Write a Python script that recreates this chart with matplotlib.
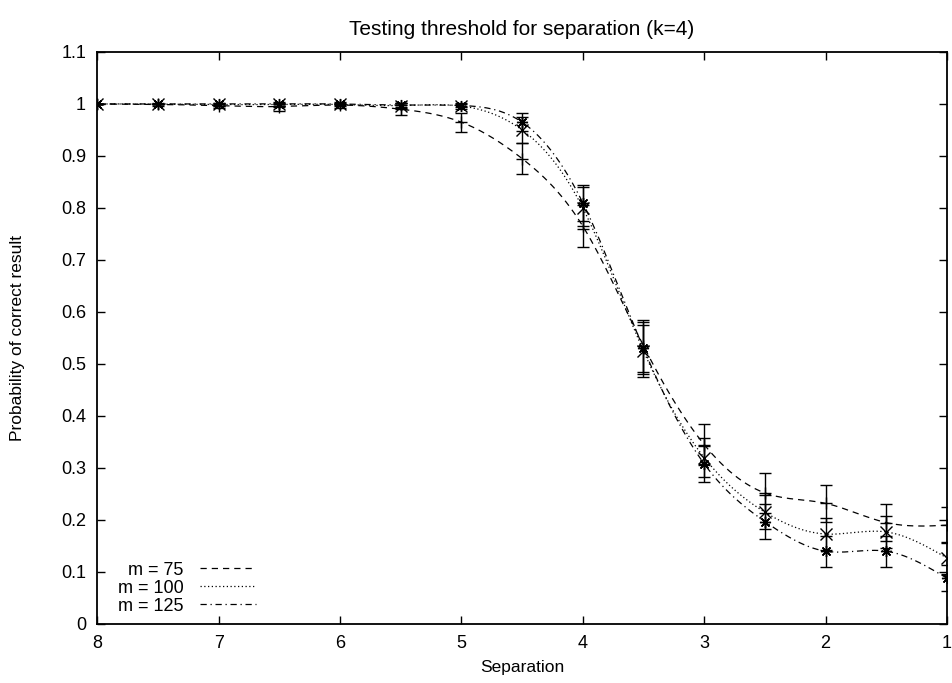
import numpy as np
import matplotlib
matplotlib.use("Agg")
import matplotlib.pyplot as plt
from matplotlib.lines import Line2D

plt.rcParams['font.family'] = ['Liberation Sans', 'DejaVu Sans']

# separation values (x axis runs from 8 down to 1)
separation = [8, 7.5, 7, 6.5, 6, 5.5, 5, 4.5, 4, 3.5, 3, 2.5, 2, 1.5, 1]

prob_m75 = [1.0, 0.999, 0.997, 0.995, 0.998, 0.99, 0.965, 0.895, 0.765,
            0.535, 0.345, 0.252, 0.232, 0.195, 0.19]
err_m75 = [0.0, 0.002, 0.005, 0.008, 0.005, 0.012, 0.018, 0.03, 0.04,
           0.05, 0.04, 0.038, 0.036, 0.035, 0.035]

prob_m100 = [1.0, 1.0, 0.999, 0.999, 0.999, 0.997, 0.996, 0.95, 0.80,
             0.525, 0.32, 0.215, 0.173, 0.177, 0.127]
err_m100 = [0.0, 0.0, 0.002, 0.002, 0.002, 0.004, 0.005, 0.025, 0.04,
            0.05, 0.037, 0.033, 0.03, 0.03, 0.03]

prob_m125 = [1.0, 1.0, 1.0, 1.0, 1.0, 0.998, 0.997, 0.965, 0.81,
             0.53, 0.308, 0.197, 0.14, 0.14, 0.088]
err_m125 = [0.0, 0.0, 0.0, 0.0, 0.0, 0.003, 0.003, 0.017, 0.035,
            0.05, 0.035, 0.033, 0.03, 0.03, 0.025]

labels = ["m = 75", "m = 100", "m = 125"]


def natural_spline(x, y, n=400):
    """Natural cubic spline through the points (like gnuplot csplines)."""
    order = np.argsort(x)
    x = np.asarray(x, float)[order]
    y = np.asarray(y, float)[order]
    k = len(x)
    h = np.diff(x)
    A = np.zeros((k, k))
    b = np.zeros(k)
    A[0, 0] = A[-1, -1] = 1.0
    for i in range(1, k - 1):
        A[i, i - 1] = h[i - 1]
        A[i, i] = 2 * (h[i - 1] + h[i])
        A[i, i + 1] = h[i]
        b[i] = 6 * ((y[i + 1] - y[i]) / h[i] - (y[i] - y[i - 1]) / h[i - 1])
    M = np.linalg.solve(A, b)
    xs = np.linspace(x[0], x[-1], n)
    idx = np.clip(np.searchsorted(x, xs) - 1, 0, k - 2)
    x0, x1 = x[idx], x[idx + 1]
    hh = x1 - x0
    t0, t1 = x1 - xs, xs - x0
    ys = (M[idx] * t0 ** 3 / (6 * hh) + M[idx + 1] * t1 ** 3 / (6 * hh)
          + (y[idx] / hh - M[idx] * hh / 6) * t0
          + (y[idx + 1] / hh - M[idx + 1] * hh / 6) * t1)
    return xs, ys


fig = plt.figure(figsize=(9.53, 6.83), dpi=100)
ax = fig.add_axes([0.102, 0.0864, 0.8917, 0.8375])

series = [
    (prob_m75, err_m75, '+', (0, (5, 4))),
    (prob_m100, err_m100, 'x', (0, (1, 2))),
    (prob_m125, err_m125, (8, 2, 0), (0, (5, 3, 1, 3))),
]

handles = []
for (vals, errs, marker, ls), lab in zip(series, labels):
    ax.errorbar(separation, vals, yerr=errs, fmt='none', ecolor='black',
                elinewidth=1.0, capsize=4, capthick=1.0)
    ax.plot(separation, vals, linestyle='none', marker=marker, color='black',
            markersize=8, markeredgewidth=1.0)
    xs, ys = natural_spline(separation, vals)
    ax.plot(xs, ys, color='black', linestyle=ls, linewidth=0.9)
    handles.append(Line2D([], [], color='black', linestyle=ls, linewidth=0.9))

ax.set_xlim(8, 1)
ax.set_ylim(0, 1.1)
ax.set_xticks([8, 7, 6, 5, 4, 3, 2, 1])
ax.set_yticks(np.arange(0, 1.11, 0.1))
ax.set_yticklabels(["0", "0.1", "0.2", "0.3", "0.4", "0.5", "0.6", "0.7",
                    "0.8", "0.9", "1", "1.1"])
ax.tick_params(direction='in', top=True, right=True, length=6, width=1,
               labelsize=13, pad=8)
for sp in ax.spines.values():
    sp.set_linewidth(1.3)

ax.set_title("Testing threshold for separation (k=4)", fontsize=15, pad=12)
ax.set_xlabel("Separation", fontsize=12.5, labelpad=6)
ax.set_ylabel("Probability of correct result", fontsize=12.5, labelpad=26)

ax.legend(handles, labels, loc='lower left', bbox_to_anchor=(0.005, -0.012),
          frameon=False, markerfirst=False, fontsize=13, handlelength=3.1,
          labelspacing=0.05, handletextpad=0.9)

fig.savefig("out.png", dpi=100)
